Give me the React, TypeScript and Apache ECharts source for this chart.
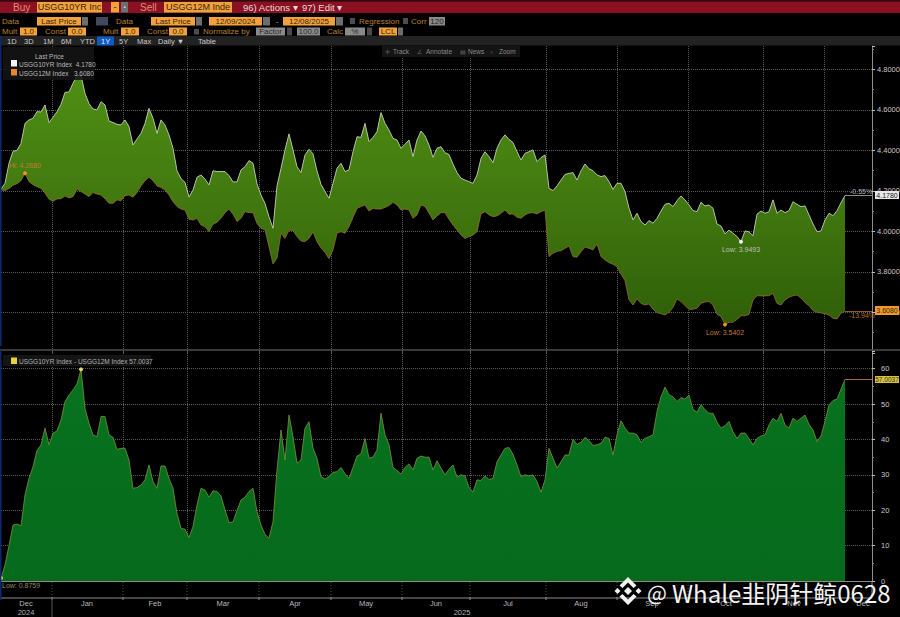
import React, { useEffect, useRef } from "react";
import * as echarts from "echarts";

const y10: number[] = [
  4.21, 4.238, 4.337, 4.396, 4.401, 4.435, 4.534, 4.551, 4.559, 4.592, 4.59, 4.625, 4.538, 4.564, 4.592,
  4.628, 4.687, 4.689, 4.732, 4.77, 4.771, 4.682, 4.631, 4.605, 4.6, 4.641, 4.625, 4.546, 4.538, 4.529,
  4.526, 4.551, 4.518, 4.427, 4.457, 4.485, 4.534, 4.608, 4.559, 4.485, 4.551, 4.526, 4.477, 4.411, 4.3,
  4.261, 4.243, 4.17, 4.205, 4.268, 4.279, 4.259, 4.23, 4.3, 4.296, 4.296, 4.296, 4.276, 4.245, 4.245,
  4.304, 4.32, 4.35, 4.337, 4.235, 4.18, 4.139, 4.073, 4.016, 4.225, 4.312, 4.403, 4.482, 4.403, 4.32,
  4.291, 4.378, 4.406, 4.383, 4.299, 4.233, 4.197, 4.164, 4.238, 4.312, 4.337, 4.296, 4.304, 4.394, 4.468,
  4.465, 4.534, 4.444, 4.465, 4.493, 4.587, 4.534, 4.501, 4.46, 4.452, 4.411, 4.431, 4.452, 4.37, 4.452,
  4.496, 4.472, 4.427, 4.366, 4.411, 4.419, 4.389, 4.38, 4.333, 4.291, 4.263, 4.254, 4.246, 4.238, 4.279,
  4.361, 4.394, 4.37, 4.34, 4.411, 4.452, 4.477, 4.455, 4.439, 4.394, 4.353, 4.386, 4.394, 4.403, 4.345,
  4.365, 4.378, 4.213, 4.202, 4.225, 4.254, 4.282, 4.287, 4.291, 4.254, 4.3, 4.333, 4.31, 4.3, 4.279,
  4.271, 4.276, 4.246, 4.208, 4.238, 4.238, 4.197, 4.115, 4.057, 4.09, 4.049, 4.032, 4.054, 4.041, 4.065,
  4.101, 4.134, 4.139, 4.123, 4.152, 4.175, 4.156, 4.131, 4.103, 4.098, 4.144, 4.126, 4.131, 4.115, 4.037,
  4.027, 3.988, 4.007, 3.991, 3.975, 3.9493, 4.003, 3.998, 3.979, 4.086, 4.101, 4.09, 4.098, 4.156, 4.09,
  4.106, 4.093, 4.103, 4.147, 4.134, 4.123, 4.126, 4.082, 4.037, 3.999, 4.003, 4.057, 4.09, 4.078, 4.103,
  4.142, 4.178,
];

const y12: number[] = [
  4.205, 4.202, 4.212, 4.228, 4.236, 4.251, 4.288, 4.246, 4.231, 4.221, 4.213, 4.189, 4.159, 4.149, 4.161,
  4.162, 4.175, 4.166, 4.172, 4.208, 4.198, 4.185, 4.172, 4.192, 4.185, 4.18, 4.162, 4.139, 4.139, 4.156,
  4.152, 4.177, 4.18, 4.169, 4.192, 4.225, 4.251, 4.268, 4.251, 4.225, 4.217, 4.205, 4.18, 4.147, 4.123,
  4.111, 4.106, 4.06, 4.057, 4.065, 4.032, 4.024, 3.999, 4.037, 4.045, 4.065, 4.093, 4.111, 4.085, 4.049,
  4.065, 4.098, 4.093, 4.093, 4.04, 4.016, 4.007, 3.925, 3.84, 3.868, 3.991, 3.966, 4.007, 4.004, 3.975,
  3.953, 3.95, 3.966, 3.998, 3.95, 3.919, 3.896, 3.866, 3.909, 3.991, 3.999, 3.991, 4.024, 4.07, 4.114,
  4.123, 4.131, 4.101, 4.114, 4.111, 4.111, 4.119, 4.128, 4.144, 4.131, 4.106, 4.111, 4.106, 4.065, 4.082,
  4.131, 4.123, 4.09, 4.057, 4.077, 4.093, 4.093, 4.06, 4.032, 4.007, 3.983, 3.965, 3.975, 3.983, 3.999,
  4.087, 4.098, 4.082, 4.073, 4.077, 4.09, 4.106, 4.085, 4.087, 4.07, 4.065, 4.082, 4.091, 4.093, 4.087,
  4.098, 4.106, 3.876, 3.892, 3.902, 3.905, 3.917, 3.928, 3.876, 3.873, 3.9, 3.922, 3.917, 3.909, 3.938,
  3.876, 3.859, 3.846, 3.838, 3.826, 3.79, 3.757, 3.662, 3.637, 3.667, 3.645, 3.637, 3.642, 3.616, 3.599,
  3.594, 3.588, 3.601, 3.625, 3.667, 3.654, 3.634, 3.616, 3.616, 3.621, 3.645, 3.652, 3.654, 3.637, 3.591,
  3.58, 3.5402, 3.552, 3.552, 3.566, 3.584, 3.584, 3.591, 3.662, 3.683, 3.682, 3.682, 3.683, 3.695, 3.645,
  3.637, 3.662, 3.675, 3.683, 3.686, 3.672, 3.649, 3.634, 3.609, 3.601, 3.598, 3.594, 3.588, 3.571, 3.568,
  3.596, 3.608,
];

const spread: number[] = [
  0.8759, 4.5, 10.0, 15.8, 16.1, 15.6, 24.3, 29.0, 32.3, 36.9, 38.5, 43.2, 38.5, 41.8, 42.4,
  45.5, 50.7, 52.6, 54.0, 55.7, 59.8072, 48.8, 44.6, 41.3, 40.8, 46.5, 46.5, 41.3, 40.6, 37.2,
  37.5, 37.5, 34.2, 26.2, 26.4, 27.1, 28.6, 32.8, 28.1, 26.2, 32.5, 32.5, 29.0, 26.2, 19.1,
  14.9, 14.6, 12.3, 15.4, 21.5, 26.2, 25.7, 23.7, 25.5, 25.3, 24.0, 20.1, 16.5, 16.7, 19.9,
  22.9, 23.7, 25.3, 26.2, 19.6, 15.8, 13.2, 12.1, 16.8, 31.4, 42.7, 34.2, 46.9, 40.8, 33.3,
  34.2, 43.2, 45.0, 37.5, 34.7, 29.5, 28.8, 29.5, 30.7, 30.9, 32.1, 30.3, 29.0, 32.1, 35.3,
  35.9, 40.3, 34.7, 35.0, 37.0, 47.4, 41.3, 38.5, 32.1, 31.2, 30.2, 32.1, 33.1, 31.4, 34.7,
  35.3, 35.0, 35.0, 31.4, 34.0, 31.9, 30.0, 31.6, 32.8, 29.3, 30.0, 29.7, 26.5, 25.1, 28.6,
  28.4, 29.7, 28.7, 29.0, 33.7, 35.6, 37.5, 37.7, 35.8, 32.8, 29.5, 30.0, 29.7, 30.0, 28.1,
  25.1, 28.6, 37.5, 34.7, 31.9, 33.7, 35.6, 35.6, 40.1, 38.6, 39.2, 40.6, 39.7, 38.3, 38.5,
  38.9, 40.6, 40.3, 35.6, 41.3, 45.3, 43.2, 41.8, 41.8, 41.3, 39.2, 40.3, 40.8, 41.3, 47.9,
  52.1, 54.8, 52.6, 52.1, 50.7, 51.8, 51.4, 52.6, 48.5, 47.7, 49.8, 48.4, 47.4, 47.4, 44.9,
  43.2, 43.9, 45.1, 42.2, 40.3, 41.8, 41.8, 40.3, 38.5, 40.3, 41.0, 41.3, 44.1, 46.0, 45.1,
  47.4, 44.1, 43.2, 46.0, 45.1, 46.0, 46.9, 44.3, 42.7, 39.4, 41.0, 45.1, 49.8, 51.0, 51.4,
  54.2, 57.0037,
];

// Session positions of month boundaries and of month names on the shared time axis
const monthStarts: number[] = [12.75, 30.5, 46.5, 64.5, 82.5, 100.25, 117.25, 136.25, 154, 171.75, 190.5, 205.75];
const monthLabelAt: number[] = [6.25, 21.5, 38.5, 55.5, 73.5, 91.25, 108.75, 126.75, 145, 162.75, 181.25, 198.25, 215.5];
const monthNames: string[] = ["Dec", "Jan", "Feb", "Mar", "Apr", "May", "Jun", "Jul", "Aug", "Sep", "Oct", "Nov", "Dec"];

const sansFont = '"Liberation Sans", Arial, sans-serif';
const lastIndex = y10.length - 1;
const axisEnd = 217.75;

const pairs = (vals: number[]) => vals.map((v, i) => [i, v]);

function txt(x: number, y: number, text: string, fill: string, size = 8, align = "left", family = sansFont, z = 120): any {
  return {
    type: "text",
    x,
    y,
    z,
    silent: true,
    style: { text, fill, font: `${size}px ${family}`, textAlign: align, textVerticalAlign: "middle" },
  };
}

function box(x: number, y: number, w: number, h: number, fill: string, z = 110): any {
  return { type: "rect", x, y, z, silent: true, shape: { x: 0, y: 0, width: w, height: h }, style: { fill } };
}

function field(x0: number, x1: number, y0: number, y1: number, fill: string, text: string, color: string, size = 8): any[] {
  return [box(x0, y0, x1 - x0, y1 - y0, fill), txt((x0 + x1) / 2, (y0 + y1) / 2, text, color, size, "center")];
}

function hline(x0: number, x1: number, y: number, stroke: string, width = 1, dash?: number[], z = 105): any {
  return {
    type: "line",
    z,
    silent: true,
    shape: { x1: x0, y1: y, x2: x1, y2: y },
    style: { stroke, lineWidth: width, lineDash: dash },
  };
}

function vline(x: number, y0: number, y1: number, stroke: string, width = 1, dash?: number[], z = 105): any {
  return {
    type: "line",
    z,
    silent: true,
    shape: { x1: x, y1: y0, x2: x, y2: y1 },
    style: { stroke, lineWidth: width, lineDash: dash },
  };
}

function toolbar(): any[] {
  const OR = "#f2a23c";
  const GR = "#6e6e6e";
  const DK = "#3a2408";
  const LBL = "#b9802c";
  const els: any[] = [];
  els.push(box(0, 0, 900, 1.5, "#2c0a0e"));
  els.push(box(0, 1.5, 900, 11.5, "#8a1022"));
  els.push(box(0, 13, 900, 23, "#000000"));
  els.push(box(0, 36, 900, 9.5, "#222222"));
  els.push(box(0, 36, 1.5, 310, "#0b2a6e"));
  els.push(box(0, 350, 1.5, 250, "#0b2a6e"));
  els.push(txt(13, 7.5, "Buy", "#e08d72", 10));
  els.push(...field(37, 102, 2, 12.5, OR, "USGG10YR Inc", DK, 9));
  els.push(...field(111, 119, 2, 12.5, OR, "-", DK, 9));
  els.push(...field(121, 128, 2, 12.5, GR, "▪", "#ddd", 6));
  els.push(txt(140, 7.5, "Sell", "#e08d72", 10));
  els.push(...field(164, 232, 2, 12.5, OR, "USGG12M Inde", DK, 9));
  els.push(txt(243, 7.5, "96) Actions ▾", "#e9d8d8", 9.5));
  els.push(txt(302, 7.5, "97) Edit ▾", "#e9d8d8", 9.5));

  const r2 = 21;
  els.push(txt(2, r2, "Data", LBL, 8));
  els.push(...field(37, 81, 17, 25.5, OR, "Last Price", DK));
  els.push(box(82, 17, 6, 8.5, GR));
  els.push(box(96, 17, 12, 8.5, "#3f4a5c"));
  els.push(txt(116, r2, "Data", LBL, 8));
  els.push(...field(151, 195, 17, 25.5, OR, "Last Price", DK));
  els.push(box(196, 17, 6, 8.5, GR));
  els.push(...field(209, 262, 17, 25.5, OR, "12/09/2024", DK));
  els.push(box(263, 17, 7, 8.5, GR));
  els.push(txt(276, r2, "-", "#aaa", 8));
  els.push(...field(283, 335, 17, 25.5, OR, "12/08/2025", DK));
  els.push(box(336, 17, 7, 8.5, GR));
  els.push(box(350, 18, 5, 6, "#4d4d4d"));
  els.push(txt(359, r2, "Regression", LBL, 8));
  els.push(box(403, 18, 5, 6, "#4d4d4d"));
  els.push(txt(411, r2, "Corr", LBL, 8));
  els.push(...field(429, 445, 17, 25.5, "#8a8a8a", "120", "#222"));

  const r3 = 31.5;
  const y0 = 27.5;
  const y1 = 35.5;
  els.push(txt(2, r3, "Mult", LBL, 8));
  els.push(...field(20, 37, y0, y1, OR, "1.0", DK));
  els.push(txt(45, r3, "Const", LBL, 8));
  els.push(...field(68, 86, y0, y1, OR, "0.0", DK));
  els.push(txt(103, r3, "Mult", LBL, 8));
  els.push(...field(121, 139, y0, y1, OR, "1.0", DK));
  els.push(txt(147, r3, "Const", LBL, 8));
  els.push(...field(169, 187, y0, y1, OR, "0.0", DK));
  els.push(box(194, 29, 5, 5.5, "#4d4d4d"));
  els.push(txt(203, r3, "Normalize by", LBL, 8));
  els.push(...field(256, 285, y0, y1, "#8a8a8a", "Factor", "#2a2a2a"));
  els.push(box(287, y0, 5, 8, "#4a4a4a"));
  els.push(...field(297, 320, y0, y1, "#8a8a8a", "100.0", "#2a2a2a"));
  els.push(txt(327, r3, "Calc", LBL, 8));
  els.push(...field(345, 365, y0, y1, "#8a8a8a", "%", "#2a2a2a"));
  els.push(box(367, y0, 5, 8, "#4a4a4a"));
  els.push(...field(379, 397, y0, y1, OR, "LCL", DK));
  els.push(box(398, y0, 5, 8, GR));

  const r4 = 41;
  const tabs: [number, string][] = [
    [7, "1D"], [24, "3D"], [43, "1M"], [61, "6M"], [80, "YTD"], [119, "5Y"], [137, "Max"], [158, "Daily ▼"], [198, "Table"],
  ];
  els.push(box(97, 36.5, 17, 9, "#0a5cc0"));
  tabs.forEach(([x, t]) => els.push(txt(x, r4, t, "#c8c8c8", 7.5)));
  els.push(txt(101, r4, "1Y", "#e8eef8", 7.5));
  return els;
}

function chartDressing(): any[] {
  const els: any[] = [];
  // Track / Annotate strip
  els.push(box(382, 46, 138, 11, "#141414"));
  els.push(txt(385, 51.5, "✛", "#666", 6));
  els.push(txt(393, 51.5, "Track", "#8a8a8a", 6.5));
  els.push(txt(417, 51.5, "∠", "#666", 6));
  els.push(txt(426, 51.5, "Annotate", "#8a8a8a", 6.5));
  els.push(txt(460, 51.5, "▤", "#666", 6));
  els.push(txt(468, 51.5, "News", "#8a8a8a", 6.5));
  els.push(txt(490, 51.5, "⌕", "#666", 6));
  els.push(txt(499, 51.5, "Zoom", "#8a8a8a", 6.5));

  // Legends
  els.push({ ...box(3, 47, 91, 33, "#141414"), style: { fill: "#141414", opacity: 0.88 } });
  els.push(txt(35, 56, "Last Price", "#b8b8b8", 6.5));
  els.push(box(11, 60, 6, 6.5, "#f4f4f4", 120));
  els.push(txt(19, 64, "USGG10YR Index  4.1780", "#b8b8b8", 6.5));
  els.push(box(11, 69, 6, 6.5, "#e8872a", 120));
  els.push(txt(19, 73, "USGG12M Index   3.6080", "#b8b8b8", 6.5));
  els.push(box(3, 355, 148, 11, "#141414"));
  els.push(box(11, 357.5, 6, 6.5, "#e6d23c", 120));
  els.push(txt(19, 361, "USGG10YR Index - USGG12M Index 57.0037", "#b0b0b0", 6.5));

  // Panel and footer rules
  els.push(hline(0, 900, 350, "#4c4c4c", 1.5));
  els.push(hline(0, 872, 598, "#8c8c8c", 1.2));
  els.push(vline(872, 581, 598, "#8c8c8c", 1));
  monthStarts.forEach((m) => {
    const x = 1 + m * 4;
    els.push(vline(x, 582, 598, "#555555", 1, [1, 2]));
    els.push(vline(x, 597, 600, "#8c8c8c", 1));
  });
  els.push(vline(52, 600, 617, "#555555", 1));
  els.push(txt(26, 612, "2024", "#b0b0b0", 7.5, "center"));
  els.push(txt(462, 612, "2025", "#b0b0b0", 7.5, "center"));

  // Last-value tags
  els.push(txt(850, 191, "-0.55%", "#b8b8b8", 7));
  els.push(...field(875, 899, 191, 199, "#e8e8e8", "4.1780", "#222", 7));
  els.push(txt(849, 315, "-13.94%", "#b8742a", 7));
  els.push(...field(875, 899, 306, 315, "#ee9a30", "3.6080", "#3a2408", 7));
  els.push(...field(875, 899, 376, 383, "#d8c23a", "57.0037", "#333", 6.5));

  // Watermark
  const cx = 628;
  const cy = 591;
  const wm = "#f2f2f2";
  const diamond = (dx: number, r: number) => ({
    type: "polygon",
    z: 130,
    silent: true,
    shape: { points: [[cx + dx, cy - r], [cx + dx + r, cy], [cx + dx, cy + r], [cx + dx - r, cy]] },
    style: { fill: wm },
  });
  els.push(diamond(0, 4), diamond(-10.5, 3), diamond(10.5, 3));
  const chevron = (s: number) => ({
    type: "polygon",
    z: 130,
    silent: true,
    shape: {
      points: [
        [cx, cy - 14 * s], [cx + 8.5 * s, cy - 5.5 * s], [cx + 5.5 * s, cy - 3 * s], [cx, cy - 8.5 * s],
        [cx - 5.5 * s, cy - 3 * s], [cx - 8.5 * s, cy - 5.5 * s],
      ],
    },
    style: { fill: wm },
  });
  els.push(chevron(1), chevron(-1));
  const cjk = '"Noto Sans CJK SC", "Noto Sans", sans-serif';
  els.push(txt(647, 592, "@", "#f4f4f4", 21, "left", cjk, 130));
  els.push(txt(672, 592, "Whale韭阴针鲸0628", "#f4f4f4", 24, "left", cjk, 130));
  return els;
}

function buildOption(): any {
  const gridLine = { show: true, lineStyle: { color: "#5c5c5c", type: "dotted", width: 1 } };
  const xCommon = {
    type: "value",
    min: 0,
    max: axisEnd,
    splitLine: gridLine,
    axisTick: { show: false, customValues: monthStarts },
  };
  const yCommon = {
    type: "value",
    position: "right",
    splitLine: { ...gridLine, showMinLine: false, showMaxLine: false },
    axisLine: { show: true, onZero: false, lineStyle: { color: "#8c8c8c", width: 1 } },
    axisTick: { show: true, length: 3, lineStyle: { color: "#bdbdbd" } },
    minorTick: { show: true, splitNumber: 2, length: 2, lineStyle: { color: "#888888" } },
    splitArea: { show: false },
  };
  const pointLabel = (text: string, color: string, position: any, extra: any = {}) => ({
    show: true,
    formatter: text,
    color,
    fontSize: 7,
    fontFamily: sansFont,
    position,
    distance: 2,
    ...extra,
  });
  const bandFill = new echarts.graphic.LinearGradient(0, 0, 0, 1, [
    { offset: 0, color: "#4f8f14" },
    { offset: 0.55, color: "#40760f" },
    { offset: 1, color: "#2f5f08" },
  ]);

  return {
    animation: false,
    backgroundColor: "#000000",
    textStyle: { fontFamily: sansFont },
    grid: [
      { left: 1, top: 46, width: 871, height: 307, outerBoundsMode: "none" },
      { left: 1, top: 351, width: 871, height: 230, outerBoundsMode: "none" },
    ],
    xAxis: [
      { ...xCommon, gridIndex: 0, axisLine: { show: false }, axisLabel: { show: false } },
      {
        ...xCommon,
        gridIndex: 1,
        axisLine: { show: true, lineStyle: { color: "#8a8a8a", width: 1 } },
        axisLabel: {
          show: true,
          customValues: monthLabelAt,
          formatter: (v: number) => monthNames[monthLabelAt.indexOf(v)] ?? "",
          color: "#b8b8b8",
          fontSize: 7.5,
          fontFamily: sansFont,
          margin: 18,
          hideOverlap: false,
        },
      },
    ],
    yAxis: [
      {
        ...yCommon,
        gridIndex: 0,
        min: 3.4,
        max: 4.916,
        interval: 0.2,
        axisLabel: {
          color: "#c8c8c8",
          fontSize: 7.5,
          fontFamily: sansFont,
          margin: 5,
          showMinLabel: false,
          showMaxLabel: false,
          formatter: (v: number) => v.toFixed(4),
        },
      },
      {
        ...yCommon,
        gridIndex: 1,
        min: 0,
        max: 65,
        interval: 10,
        axisLabel: {
          color: "#c8c8c8",
          fontSize: 7.5,
          fontFamily: sansFont,
          margin: 9,
          showMaxLabel: false,
          formatter: (v: number) => String(v),
        },
      },
    ],
    series: [
      {
        name: "band",
        type: "custom",
        xAxisIndex: 0,
        yAxisIndex: 0,
        silent: true,
        z: 2,
        clip: true,
        data: pairs(y10),
        encode: { x: 0, y: 1 },
        renderItem: (params: any, api: any) => {
          if (params.dataIndex !== 0) return null;
          const upper = y10.map((v, i) => api.coord([i, v]));
          const lower = y12.map((v, i) => api.coord([i, v])).reverse();
          return { type: "polygon", shape: { points: [...upper, ...lower] }, style: { fill: bandFill } };
        },
      },
      {
        name: "USGG10YR Index",
        type: "line",
        xAxisIndex: 0,
        yAxisIndex: 0,
        data: pairs(y10),
        symbol: "none",
        z: 4,
        lineStyle: { color: "#c6cfba", width: 0.9 },
        markLine: {
          silent: true,
          symbol: "none",
          label: { show: false },
          lineStyle: { color: "#b0b0b0", type: "solid", width: 0.8 },
          data: [[{ coord: [lastIndex, y10[lastIndex]] }, { coord: [axisEnd, y10[lastIndex]] }]],
        },
        markPoint: {
          silent: true,
          symbol: "circle",
          symbolSize: 4,
          itemStyle: { color: "#eeeeee" },
          data: [
            {
              coord: [y10.indexOf(Math.min(...y10)), Math.min(...y10)],
              label: pointLabel("Low: 3.9493", "#bdbdbd", "bottom"),
            },
          ],
        },
      },
      {
        name: "USGG12M Index",
        type: "line",
        xAxisIndex: 0,
        yAxisIndex: 0,
        data: pairs(y12),
        symbol: "none",
        z: 4,
        lineStyle: { color: "#a8702e", width: 0.7 },
        markLine: {
          silent: true,
          symbol: "none",
          label: { show: false },
          lineStyle: { color: "#b9762e", type: "solid", width: 0.8 },
          data: [[{ coord: [lastIndex, y12[lastIndex]] }, { coord: [axisEnd, y12[lastIndex]] }]],
        },
        markPoint: {
          silent: true,
          symbol: "circle",
          symbolSize: 4,
          itemStyle: { color: "#ee8f2e" },
          data: [
            {
              coord: [y12.indexOf(Math.min(...y12)), Math.min(...y12)],
              label: pointLabel("Low: 3.5402", "#c47a2c", "bottom"),
            },
            {
              coord: [6, 4.288],
              label: pointLabel("Hi: 4.2880", "#c47a2c", "top"),
            },
          ],
        },
      },
      {
        name: "USGG10YR Index - USGG12M Index",
        type: "line",
        xAxisIndex: 1,
        yAxisIndex: 1,
        data: pairs(spread),
        symbol: "none",
        z: 4,
        lineStyle: { color: "#7f9435", width: 0.8 },
        areaStyle: {
          opacity: 1,
          color: new echarts.graphic.LinearGradient(0, 0, 0, 1, [
            { offset: 0, color: "#07731f" },
            { offset: 1, color: "#066a1c" },
          ]),
        },
        markLine: {
          silent: true,
          symbol: "none",
          label: { show: false },
          lineStyle: { color: "#c0703a", type: "solid", width: 0.9 },
          data: [[{ coord: [lastIndex, spread[lastIndex]] }, { coord: [axisEnd, spread[lastIndex]] }]],
        },
        markPoint: {
          silent: true,
          symbol: "circle",
          symbolSize: 4,
          itemStyle: { color: "#e6dc6a" },
          data: [
            {
              coord: [spread.indexOf(Math.max(...spread)), Math.max(...spread)],
              label: pointLabel("Hi: 59.8072", "#8a8a46", "top", { distance: 1 }),
            },
            {
              coord: [spread.indexOf(Math.min(...spread)), Math.min(...spread)],
              label: pointLabel("Low: 0.8759", "#8a8a5a", [3, 6], { align: "left", verticalAlign: "top" }),
            },
          ],
        },
      },
    ],
    graphic: { elements: [...toolbar(), ...chartDressing()] },
  };
}

export default function App() {
  const ref = useRef<HTMLDivElement | null>(null);
  useEffect(() => {
    if (!ref.current) return;
    document.body.style.margin = "0";
    document.body.style.background = "#000";
    const chart = echarts.init(ref.current, undefined, { renderer: "svg", width: 900, height: 617 });
    chart.setOption(buildOption());
    return () => chart.dispose();
  }, []);
  return <div ref={ref} style={{ width: 900, height: 617 }} />;
}
